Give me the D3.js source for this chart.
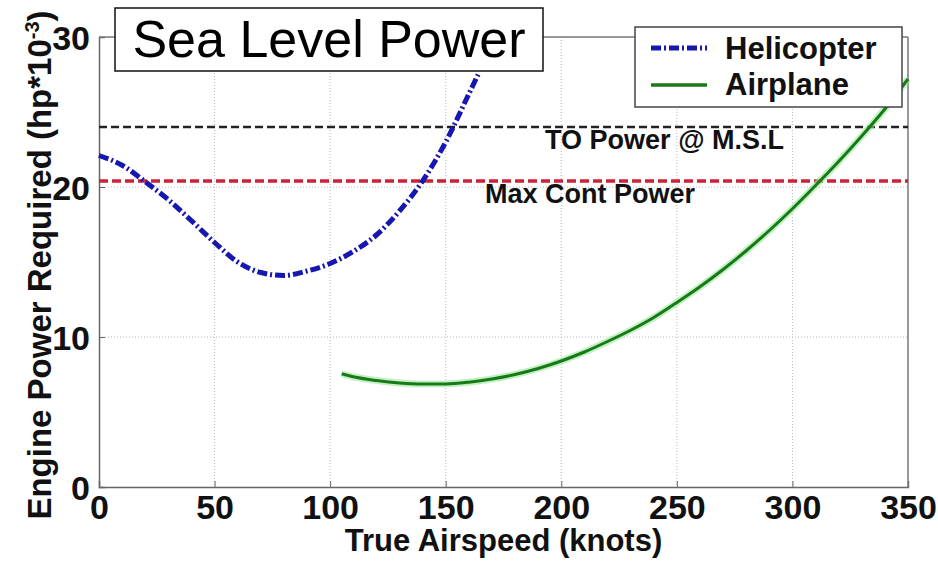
<!DOCTYPE html>
<html>
<head>
<meta charset="utf-8">
<script src="https://cdn.jsdelivr.net/npm/d3@7"></script>
<style>
  body { margin: 0; background: #fff; }
  svg { font-family: "Liberation Sans", Arial, Helvetica, sans-serif; }
</style>
</head>
<body>
<svg id="chart" width="938" height="561"></svg>
<script>
// values (knots, hp*10^-3)
const heliSpeed = [0, 10, 20, 30, 40, 50, 60, 70, 80, 90, 100, 110, 120, 130, 140, 150, 160, 164];
const heliPower = [22.1, 21.45, 20.35, 19.15, 17.75, 16.3, 15.0, 14.3, 14.1, 14.4, 14.9, 15.7, 16.8, 18.4, 20.4, 23.0, 26.2, 27.5];

const planeSpeed = [105, 110, 120, 130, 140, 150, 160, 170, 180, 190, 200, 210, 220, 230, 240, 250, 260, 270, 280, 290, 300, 310, 320, 330, 340, 350];
const planePower = [7.55, 7.35, 7.1, 6.93, 6.86, 6.87, 6.99, 7.2, 7.5, 7.9, 8.4, 9.0, 9.7, 10.45, 11.3, 12.3, 13.35, 14.5, 15.75, 17.1, 18.55, 20.1, 21.7, 23.4, 25.2, 27.2];

const toPower = 24;
const maxContPower = 20.4;

const xTicks = [0, 50, 100, 150, 200, 250, 300, 350];
const yTicks = [0, 10, 20, 30];

// plot box edges
const pLeft = 99, pRight = 908, pTop = 37, pBottom = 487;

const svg = d3.select('#chart');

const x = d3.scaleLinear().domain([0, 350]).range([pLeft, pRight]);
const y = d3.scaleLinear().domain([0, 30]).range([pBottom, pTop]);

// grid
svg.append('g')
  .selectAll('line')
  .data(xTicks.slice(1, -1))
  .enter()
  .append('line')
  .attr('x1', (d) => x(d)).attr('x2', (d) => x(d))
  .attr('y1', pTop).attr('y2', pBottom)
  .attr('stroke', '#bbb')
  .attr('stroke-width', 1)
  .attr('stroke-dasharray', '1,2');

svg.append('g')
  .selectAll('line')
  .data(yTicks.slice(1, -1))
  .enter()
  .append('line')
  .attr('x1', pLeft).attr('x2', pRight)
  .attr('y1', (d) => y(d)).attr('y2', (d) => y(d))
  .attr('stroke', '#bbb')
  .attr('stroke-width', 1)
  .attr('stroke-dasharray', '1,2');

// axes (ticks pointing inwards, matlab style)
const xAxis = svg.append('g')
  .attr('transform', `translate(0,${pBottom})`)
  .call(d3.axisBottom(x).tickValues(xTicks).tickSize(-6).tickPadding(5).tickFormat(d3.format('d')));

const yAxis = svg.append('g')
  .attr('transform', `translate(${pLeft},0)`)
  .call(d3.axisLeft(y).tickValues(yTicks).tickSize(-6).tickPadding(9).tickFormat(d3.format('d')));

[xAxis, yAxis].forEach((g) => {
  g.select('.domain').attr('stroke', '#666').attr('stroke-width', 1.5);
  g.selectAll('.tick line').attr('stroke', '#666');
  g.selectAll('.tick text')
    .attr('fill', '#111')
    .attr('font-size', '34px')
    .attr('font-weight', 'bold')
    .attr('font-family', '"Liberation Sans", Arial, sans-serif');
});
xAxis.selectAll('.tick text').attr('dy', '0.8em');
yAxis.selectAll('.tick text').attr('dy', '0.36em');

// top and right frame
svg.append('line')
  .attr('x1', pLeft).attr('x2', pRight).attr('y1', pTop).attr('y2', pTop)
  .attr('stroke', '#777').attr('stroke-width', 1.5);
svg.append('line')
  .attr('x1', pRight).attr('x2', pRight).attr('y1', pTop).attr('y2', pBottom)
  .attr('stroke', '#777').attr('stroke-width', 1.5);

// power limits
svg.append('line')
  .attr('x1', pLeft).attr('x2', pRight)
  .attr('y1', y(toPower)).attr('y2', y(toPower))
  .attr('stroke', '#222')
  .attr('stroke-width', 2.5)
  .attr('stroke-dasharray', '8,4');

svg.append('line')
  .attr('x1', pLeft).attr('x2', pRight)
  .attr('y1', y(maxContPower)).attr('y2', y(maxContPower))
  .attr('stroke', '#cc2238')
  .attr('stroke-width', 3.5)
  .attr('stroke-dasharray', '9,4');

svg.append('text')
  .attr('x', x(193)).attr('y', y(toPower) + 22)
  .attr('font-size', '27px').attr('font-weight', 'bold').attr('fill', '#111')
  .text('TO Power @ M.S.L');

svg.append('text')
  .attr('x', x(167)).attr('y', y(maxContPower) + 22)
  .attr('font-size', '27px').attr('font-weight', 'bold').attr('fill', '#111')
  .text('Max Cont Power');

// curves
const line = d3.line()
  .x((d) => x(d[0]))
  .y((d) => y(d[1]))
  .curve(d3.curveMonotoneX);

const heli = heliSpeed.map((s, i) => [s, heliPower[i]]);
const plane = planeSpeed.map((s, i) => [s, planePower[i]]);

svg.append('path')
  .datum(plane)
  .attr('d', line)
  .attr('fill', 'none')
  .attr('stroke', '#9be69b')
  .attr('stroke-opacity', 0.6)
  .attr('stroke-width', 7);

svg.append('path')
  .datum(plane)
  .attr('d', line)
  .attr('fill', 'none')
  .attr('stroke', '#167a16')
  .attr('stroke-width', 3);

svg.append('path')
  .datum(heli)
  .attr('d', line)
  .attr('fill', 'none')
  .attr('stroke', '#1616b0')
  .attr('stroke-width', 5)
  .attr('stroke-dasharray', '10,3,2,3');

// title box
svg.append('rect')
  .attr('x', 115).attr('y', 8).attr('width', 428).attr('height', 63)
  .attr('fill', '#fff').attr('stroke', '#111').attr('stroke-width', 1.5);
svg.append('text')
  .attr('x', 329).attr('y', 57)
  .attr('text-anchor', 'middle')
  .attr('font-size', '52px')
  .attr('fill', '#000')
  .text('Sea Level Power');

// legend
const legend = svg.append('g');
legend.append('rect')
  .attr('x', 635).attr('y', 27).attr('width', 267).attr('height', 80)
  .attr('fill', '#fff').attr('stroke', '#444').attr('stroke-width', 1.5);
legend.append('line')
  .attr('x1', 651).attr('x2', 707).attr('y1', 48).attr('y2', 48)
  .attr('stroke', '#1616b0').attr('stroke-width', 5).attr('stroke-dasharray', '10,3,2,3');
legend.append('line')
  .attr('x1', 651).attr('x2', 707).attr('y1', 85).attr('y2', 85)
  .attr('stroke', '#167a16').attr('stroke-width', 3.5);
legend.append('text')
  .attr('x', 725).attr('y', 59)
  .attr('font-size', '31px').attr('font-weight', 'bold').attr('fill', '#111')
  .text('Helicopter');
legend.append('text')
  .attr('x', 725).attr('y', 95)
  .attr('font-size', '31px').attr('font-weight', 'bold').attr('fill', '#111')
  .text('Airplane');

// axis titles
svg.append('text')
  .attr('x', (pLeft + pRight) / 2).attr('y', 551)
  .attr('text-anchor', 'middle')
  .attr('font-size', '31px').attr('font-weight', 'bold').attr('fill', '#111')
  .text('True Airspeed (knots)');

const yTitle = svg.append('text')
  .attr('transform', `translate(51,${(pTop + pBottom) / 2 + 3}) rotate(-90)`)
  .attr('text-anchor', 'middle')
  .attr('font-size', '33px').attr('font-weight', 'bold').attr('fill', '#111');
yTitle.append('tspan').text('Engine Power Required (hp*10');
yTitle.append('tspan').attr('font-size', '20px').attr('dy', '-12').text('-3');
yTitle.append('tspan').attr('dy', '12').text(')');
</script>
</body>
</html>
